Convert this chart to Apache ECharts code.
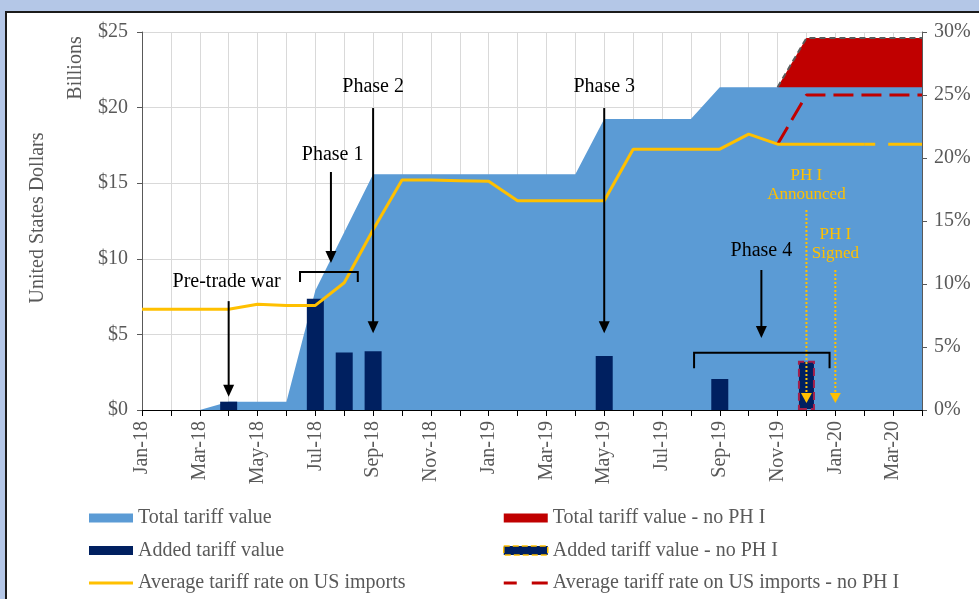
<!DOCTYPE html>
<html>
<head>
<meta charset="utf-8">
<script src="https://cdn.jsdelivr.net/npm/echarts@6/dist/echarts.min.js"></script>
<style>
  html, body { margin: 0; padding: 0; width: 979px; height: 599px; overflow: hidden; background: #B4C7E7; }
  #frame { position: absolute; left: 5px; top: 11px; width: 1000px; height: 700px; background: #fff; border: 2px solid #1b1b1b; }
  #main { position: absolute; left: 0; top: 0; width: 979px; height: 599px; }
</style>
</head>
<body>
<div id="frame"></div>
<div id="main"></div>
<script>
  // months, Jan-18 .. Apr-20
  const months = ['Jan-18', 'Feb-18', 'Mar-18', 'Apr-18', 'May-18', 'Jun-18', 'Jul-18', 'Aug-18', 'Sep-18', 'Oct-18',
    'Nov-18', 'Dec-18', 'Jan-19', 'Feb-19', 'Mar-19', 'Apr-19', 'May-19', 'Jun-19', 'Jul-19', 'Aug-19', 'Sep-19',
    'Oct-19', 'Nov-19', 'Dec-19', 'Jan-20', 'Feb-20', 'Mar-20', 'Apr-20']

  // $ billions
  const totalTariff = [0, 0, 0, 0.55, 0.55, 0.55, 7.9, 11.75, 15.6, 15.6, 15.6, 15.6, 15.6, 15.6, 15.6, 15.6,
    19.25, 19.25, 19.25, 19.25, 21.35, 21.35, 21.35, 21.35, 21.35, 21.35, 21.35, 21.35]
  const totalNoPH1 = [null, null, null, null, null, null, null, null, null, null, null, null, null, null, null, null,
    null, null, null, null, null, null, 21.35, 24.6, 24.6, 24.6, 24.6, 24.6]
  const addedTariff = [null, null, null, 0.55, null, null, 7.35, 3.8, 3.88, null, null, null, null, null, null, null,
    3.57, null, null, null, 2.05, null, null, null, null, null, null, null]
  const addedNoPH1 = [null, null, null, null, null, null, null, null, null, null, null, null, null, null, null, null,
    null, null, null, null, null, null, null, 3.25, null, null, null, null]

  // percent
  const avgRate = [8.0, 8.0, 8.0, 8.0, 8.4, 8.3, 8.3, 10.1, 14.3, 18.25, 18.25, 18.2, 18.15, 16.6, 16.6, 16.6,
    16.6, 20.7, 20.7, 20.7, 20.7, 21.9, 21.1, 21.1, 21.1, 21.1, null, null]
  const avgRateTail = [null, null, null, null, null, null, null, null, null, null, null, null, null, null, null, null,
    null, null, null, null, null, null, null, null, null, 21.1, 21.1, 21.1]
  const avgRateNoPH1 = [null, null, null, null, null, null, null, null, null, null, null, null, null, null, null, null,
    null, null, null, null, null, null, 21.1, 25, 25, 25, 25, 25]

  const font = 'Liberation Serif'
  const grey = '#595959'

  const chart = echarts.init(document.getElementById('main'))

  const legendBase = {
    orient: 'vertical',
    top: 508,
    padding: 0,
    height: 100,
    itemWidth: 44,
    itemHeight: 9,
    itemGap: 12.5,
    textStyle: { fontFamily: font, fontSize: 20, color: grey, lineHeight: 20 }
  }

  chart.setOption({
    animation: false,
    grid: {
      left: 142,
      right: 57,
      top: 32,
      bottom: 189,
      outerBoundsMode: 'none'
    },
    legend: [Object.assign({}, legendBase, {
        left: 89,
        data: [
          { name: 'Total tariff value', icon: 'rect' },
          { name: 'Added tariff value', icon: 'rect' },
          { name: 'Average tariff rate on US imports', icon: 'path://M0,0H44V3H0Z' }
        ]
      }),
      Object.assign({}, legendBase, {
        left: 503,
        data: [
          { name: 'Total tariff value - no PH I', icon: 'rect' },
          {
            name: 'Added tariff value - no PH I',
            icon: 'rect',
            itemStyle: { borderColor: '#FFC000', borderWidth: 1.5, borderType: 'dashed' }
          },
          { name: 'Average tariff rate on US imports - no PH I', icon: 'path://M0,0H13V3H0Z M28,0H44V3H28Z' }
        ]
      })
    ],
    xAxis: {
      type: 'category',
      data: months,
      boundaryGap: false,
      axisLine: { lineStyle: { color: '#000', width: 1 } },
      axisTick: { show: true, interval: 0, length: 6, lineStyle: { color: '#000' } },
      axisLabel: {
        interval: 1,
        rotate: 90,
        margin: 11,
        fontFamily: font,
        fontSize: 20,
        color: grey
      },
      splitLine: { show: true, interval: 0, lineStyle: { color: '#D9D9D9' } }
    },
    yAxis: [{
        type: 'value',
        min: 0,
        max: 25,
        interval: 5,
        position: 'left',
        axisLine: { show: true, lineStyle: { color: grey } },
        axisTick: { show: true, length: 5, lineStyle: { color: grey } },
        axisLabel: { formatter: '${value}', margin: 14, fontFamily: font, fontSize: 20, color: grey },
        splitLine: { show: true, lineStyle: { color: '#D9D9D9' } }
      },
      {
        type: 'value',
        min: 0,
        max: 30,
        interval: 5,
        position: 'right',
        axisLine: { show: true, lineStyle: { color: grey } },
        axisTick: { show: true, length: 5, lineStyle: { color: grey } },
        axisLabel: { formatter: '{value}%', margin: 12, fontFamily: font, fontSize: 20, color: grey },
        splitLine: { show: false }
      }
    ],
    series: [{
        name: 'Total tariff value - no PH I',
        type: 'line',
        z: 1,
        data: totalNoPH1,
        color: '#C00000',
        symbol: 'none',
        lineStyle: { color: '#5a5a5a', width: 2, type: [6, 4] },
        areaStyle: { color: '#C00000', opacity: 1 }
      },
      {
        name: 'Total tariff value',
        type: 'line',
        z: 2,
        data: totalTariff,
        color: '#5B9BD5',
        symbol: 'none',
        lineStyle: { width: 0 },
        areaStyle: { color: '#5B9BD5', opacity: 1 }
      },
      {
        name: 'Added tariff value',
        type: 'bar',
        z: 3,
        data: addedTariff,
        barWidth: 17,
        barGap: '-100%',
        itemStyle: { color: '#002060' }
      },
      {
        name: 'Added tariff value - no PH I',
        type: 'bar',
        z: 3,
        data: addedNoPH1,
        barWidth: 17,
        barGap: '-100%',
        itemStyle: { color: '#002060', borderColor: '#A31F4B', borderWidth: 2, borderType: 'dashed' }
      },
      {
        name: 'Average tariff rate on US imports - no PH I',
        type: 'line',
        z: 4,
        yAxisIndex: 1,
        data: avgRateNoPH1,
        color: '#C00000',
        symbol: 'none',
        lineStyle: { color: '#C00000', width: 3, type: [20, 8] }
      },
      {
        name: 'Average tariff rate on US imports',
        type: 'line',
        z: 4,
        yAxisIndex: 1,
        data: avgRate,
        color: '#FFC000',
        symbol: 'none',
        lineStyle: { color: '#FFC000', width: 3 }
      },
      {
        name: 'avgTail',
        type: 'line',
        z: 4,
        yAxisIndex: 1,
        data: avgRateTail,
        color: '#FFC000',
        symbol: 'none',
        lineStyle: { color: '#FFC000', width: 3, type: [11, 13, 60] }
      }
    ]
  })

  // annotations, in category index / $ billions
  const arrows = [
    { i: 3, from: 7.2, to: 0.88 },
    { i: 6.54, from: 15.74, to: 9.72 },
    { i: 8, from: 19.97, to: 5.07 },
    { i: 16, from: 19.97, to: 5.07 },
    { i: 21.44, from: 9.26, to: 4.76 }
  ]
  const dottedArrows = [
    { i: 23, from: 13.23, to: 0.46 },
    { i: 24, from: 9.26, to: 0.46 }
  ]
  const brackets = [
    { i0: 5.47, i1: 7.47, top: 9.13, end: 8.47 },
    { i0: 19.11, i1: 23.8, top: 3.79, end: 2.76 }
  ]
  const notes = [
    { text: 'Pre-trade war', i: 2.93, v: 8.47, color: '#000', size: 20 },
    { text: 'Phase 1', i: 6.6, v: 16.86, color: '#000', size: 20 },
    { text: 'Phase 2', i: 8, v: 21.36, color: '#000', size: 20 },
    { text: 'Phase 3', i: 16, v: 21.36, color: '#000', size: 20 },
    { text: 'Phase 4', i: 21.44, v: 10.5, color: '#000', size: 20 },
    { text: 'PH I\nAnnounced', i: 23, v: 14.9, color: '#FFC000', size: 17 },
    { text: 'PH I\nSigned', i: 24, v: 10.96, color: '#FFC000', size: 17 }
  ]

  function px(i, v) {
    const i0 = Math.floor(i)
    const i1 = Math.min(i0 + 1, months.length - 1)
    const p0 = chart.convertToPixel({ xAxisIndex: 0, yAxisIndex: 0 }, [months[i0], v])
    const p1 = chart.convertToPixel({ xAxisIndex: 0, yAxisIndex: 0 }, [months[i1], v])
    return [p0[0] + (p1[0] - p0[0]) * (i - i0), p0[1]]
  }

  const g = []
  arrows.forEach(a => {
    const p = px(a.i, a.from)
    const q = px(a.i, a.to)
    g.push({ type: 'line', z: 100, shape: { x1: p[0], y1: p[1], x2: q[0], y2: q[1] - 10 }, style: { stroke: '#000', lineWidth: 2 } })
    g.push({ type: 'polygon', z: 100, shape: { points: [[q[0] - 5.5, q[1] - 12], [q[0] + 5.5, q[1] - 12], [q[0], q[1]]] }, style: { fill: '#000' } })
  })
  dottedArrows.forEach(a => {
    const p = px(a.i, a.from)
    const q = px(a.i, a.to)
    g.push({ type: 'line', z: 100, shape: { x1: p[0], y1: p[1], x2: q[0], y2: q[1] - 8 }, style: { stroke: '#FFC000', lineWidth: 2, lineDash: [2, 2] } })
    g.push({ type: 'polygon', z: 100, shape: { points: [[q[0] - 5.5, q[1] - 10], [q[0] + 5.5, q[1] - 10], [q[0], q[1]]] }, style: { fill: '#FFC000' } })
  })
  brackets.forEach(b => {
    const a0 = px(b.i0, b.top), a1 = px(b.i1, b.top)
    const e0 = px(b.i0, b.end), e1 = px(b.i1, b.end)
    g.push({
      type: 'polyline', z: 100,
      shape: { points: [[e0[0], e0[1]], [a0[0], a0[1]], [a1[0], a1[1]], [e1[0], e1[1]]] },
      style: { stroke: '#000', lineWidth: 2, fill: null }
    })
  })
  notes.forEach(n => {
    const p = px(n.i, n.v)
    g.push({
      type: 'text', z: 101, x: p[0], y: p[1],
      style: { text: n.text, fill: n.color, fontFamily: font, fontSize: n.size, lineHeight: n.size + 2, align: 'center', verticalAlign: 'middle' }
    })
  })
  // axis titles
  g.push({
    type: 'text', x: 76, y: 68, rotation: Math.PI / 2,
    style: { text: 'Billions', fill: grey, fontFamily: font, fontSize: 20, align: 'center', verticalAlign: 'middle' }
  })
  g.push({
    type: 'text', x: 38, y: 218, rotation: Math.PI / 2,
    style: { text: 'United States Dollars', fill: grey, fontFamily: font, fontSize: 20, align: 'center', verticalAlign: 'middle' }
  })

  chart.setOption({ graphic: g })
</script>
</body>
</html>
